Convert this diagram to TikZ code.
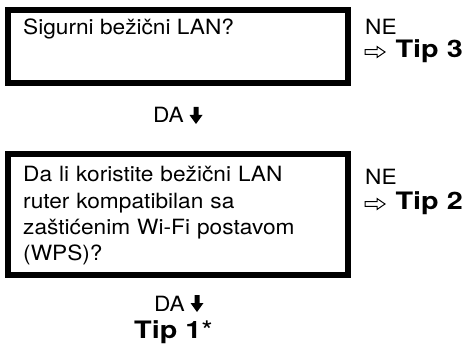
\documentclass[tikz,border=0pt]{standalone}
\usepackage{fontspec}
\setmainfont{TeX Gyre Heros}[FakeStretch=1.08]
\newfontfamily\tipfont{TeX Gyre Heros}[FakeStretch=1.2,UprightFont=*-Bold]
\begin{document}
\begin{tikzpicture}[x=1pt,y=-1pt,
  qbox/.style={draw, line width=6pt, rectangle, inner sep=0pt},
  qtext/.style={anchor=base west, inner sep=0pt, font=\fontsize{21}{26.3}\selectfont, align=left},
  lbl/.style={inner sep=0pt, font=\fontsize{21}{24}\selectfont},
  tip/.style={inner sep=0pt, font=\tipfont\fontsize{24}{24}\selectfont},
  darrow/.pic={\fill (-2.5,0) -- (2.5,0) -- (2.5,8) -- (6.5,8) -- (0,17) -- (-6.5,8) -- (-2.5,8) -- cycle;},
  harrow/.pic={\draw[line width=1pt, line join=miter] (0,-2.3) -- (12,-2.3) -- (12,-5.5) -- (20,0) -- (12,5.5) -- (12,2.3) -- (0,2.3) -- cycle;}
]
\useasboundingbox (0,0) rectangle (464,345);
% boxes
\node[qbox, minimum width=340pt, minimum height=73pt] (q1) at (178,46.5) {};
\node[qbox, minimum width=340pt, minimum height=121pt] (q2) at (178,214.5) {};
% texts in boxes
\node[qtext] (q1t) at (23,35) {Sigurni bežični LAN?};
\node[qtext, text width=325pt] (q2t) at (23,182) {Da li koristite bežični LAN\\ruter kompatibilan sa\\zaštićenim Wi-Fi postavom\\(WPS)?};
% NE branches
\node[lbl, anchor=base west] (ne1) at (365,35) {NE};
\node[tip, anchor=base east] (tip3) at (463,58) {Tip 3};
\pic at (365,52) {harrow};
\node[lbl, anchor=base west] (ne2) at (365,185) {NE};
\node[tip, anchor=base east] (tip2) at (463,210) {Tip 2};
\pic at (365,204) {harrow};
% DA branches
\node[lbl, anchor=base east] (da1) at (184,123) {DA};
\pic at (196,107) {darrow};
\node[lbl, anchor=base east] (da2) at (185,311) {DA};
\pic at (197,295) {darrow};
\node[tip, anchor=base west] (tip1) at (134,338) {Tip 1{\mdseries\rmfamily\fontsize{27}{24}\selectfont\raisebox{-2pt}{*}}};
\end{tikzpicture}
\end{document}
